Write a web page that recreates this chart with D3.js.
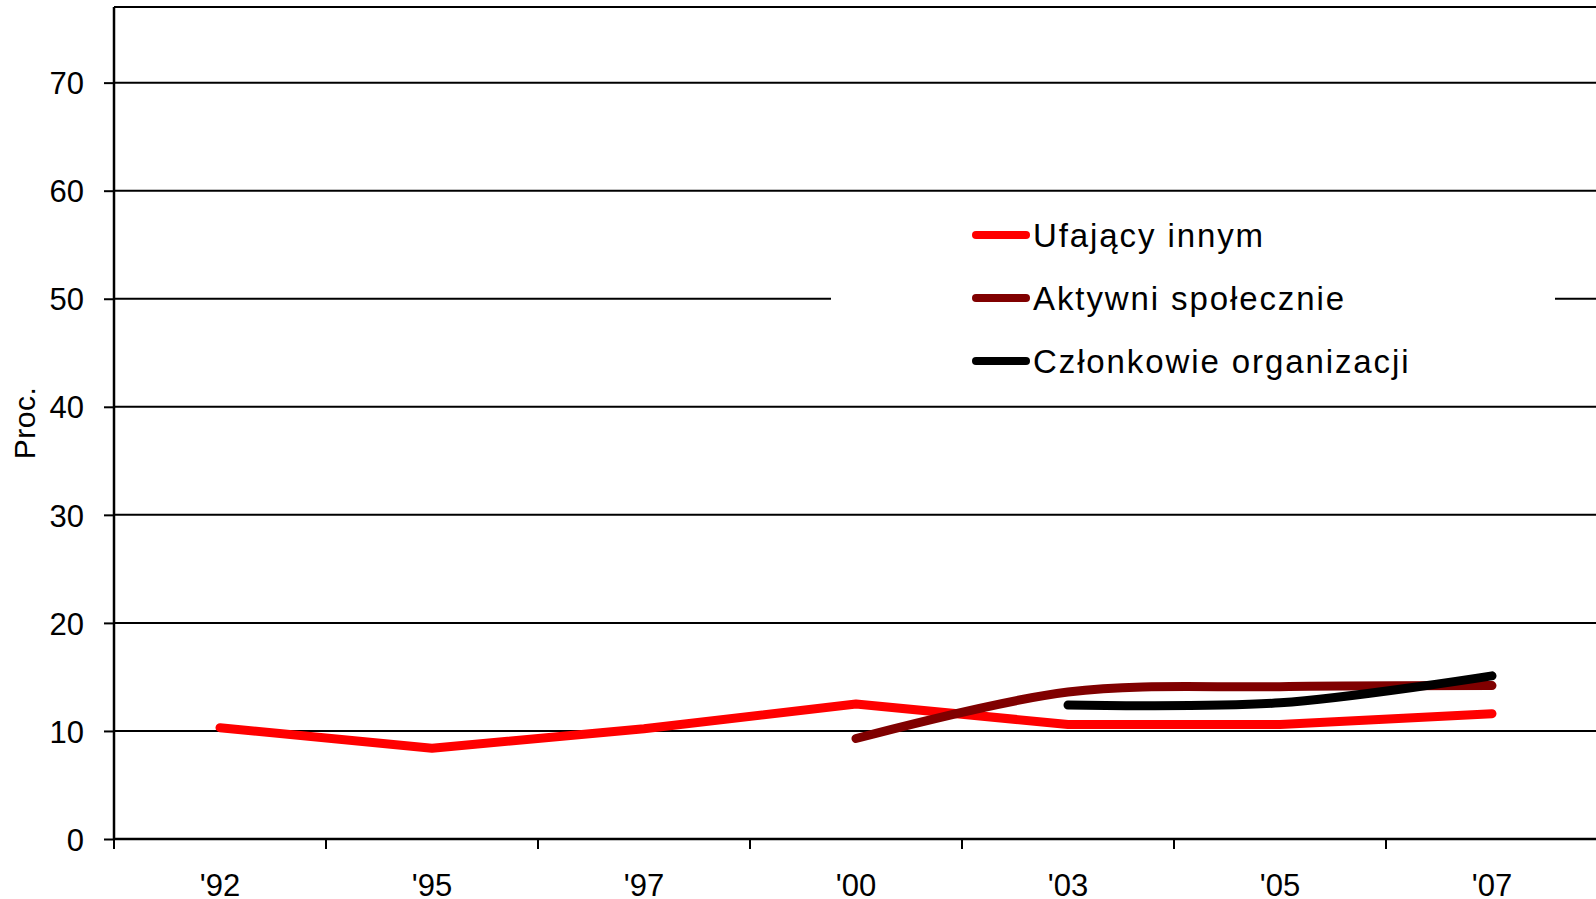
<!DOCTYPE html>
<html>
<head>
<meta charset="utf-8">
<script src="https://cdn.jsdelivr.net/npm/d3@7"></script>
<style>
  html, body { margin: 0; padding: 0; background: #fff; overflow: hidden; }
  text { font-family: "Liberation Sans", Arial, sans-serif; fill: #000; }
</style>
</head>
<body>
<div id="chart"></div>
<script>
// dane
var years = ["'92", "'95", "'97", "'00", "'03", "'05", "'07"];
var ufajacy = [10.3, 8.4, 10.2, 12.5, 10.6, 10.6, 11.6];
var aktywni = [null, null, null, 9.3, 13.6, 14.1, 14.2];
var czlonkowie = [null, null, null, null, 12.4, 12.6, 15.1];
var yTicks = [0, 10, 20, 30, 40, 50, 60, 70];
var seriesNames = ["Ufający innym", "Aktywni społecznie", "Członkowie organizacji"];

var width = 1596, height = 899;
var plotLeft = 114, plotRight = 1598, plotTop = 7, plotBottom = 839;

var svg = d3.select("#chart")
    .append("svg")
    .attr("width", width)
    .attr("height", height);

var x = d3.scaleBand()
    .domain(years)
    .range([plotLeft, plotRight])
    .padding(0);

var y = d3.scaleLinear()
    .domain([0, 77])
    .range([plotBottom, plotTop]);

// linie siatki
svg.append("g")
    .selectAll("line")
    .data(yTicks.filter(function (d) { return d > 0; }))
    .enter()
    .append("line")
    .attr("x1", plotLeft)
    .attr("x2", plotRight)
    .attr("y1", function (d) { return y(d); })
    .attr("y2", function (d) { return y(d); })
    .attr("stroke", "#000")
    .attr("stroke-width", 2);

// górna ramka
svg.append("line")
    .attr("x1", plotLeft).attr("x2", plotRight)
    .attr("y1", plotTop).attr("y2", plotTop)
    .attr("stroke", "#000").attr("stroke-width", 2.2);

// oś Y
var yAxis = svg.append("g")
    .attr("transform", "translate(" + plotLeft + ",0)")
    .call(d3.axisLeft(y).tickValues(yTicks).tickSize(10).tickPadding(20));
yAxis.select(".domain").remove();
yAxis.selectAll(".tick line").attr("stroke", "#000").attr("stroke-width", 2);
yAxis.selectAll(".tick text")
    .attr("font-size", "31px")
    .attr("font-family", "Liberation Sans, Arial, sans-serif")
    .attr("dy", "0.36em");
svg.append("line")
    .attr("x1", plotLeft).attr("x2", plotLeft)
    .attr("y1", plotTop).attr("y2", plotBottom)
    .attr("stroke", "#000").attr("stroke-width", 2.5);

// oś X: kreski na granicach kategorii, etykiety pośrodku
var xAxis = svg.append("g")
    .attr("transform", "translate(0," + plotBottom + ")")
    .call(d3.axisBottom(x).tickSize(0).tickPadding(0));
xAxis.select(".domain").remove();
xAxis.selectAll(".tick text")
    .attr("font-size", "31px")
    .attr("font-family", "Liberation Sans, Arial, sans-serif")
    .attr("dy", null)
    .attr("y", 56.5);
svg.append("g")
    .selectAll("line")
    .data(years)
    .enter()
    .append("line")
    .attr("x1", function (d) { return x(d); })
    .attr("x2", function (d) { return x(d); })
    .attr("y1", plotBottom)
    .attr("y2", plotBottom + 10)
    .attr("stroke", "#000")
    .attr("stroke-width", 2);
svg.append("line")
    .attr("x1", plotLeft).attr("x2", plotRight)
    .attr("y1", plotBottom).attr("y2", plotBottom)
    .attr("stroke", "#000").attr("stroke-width", 2.5);

// tytuł osi Y
svg.append("text")
    .attr("transform", "translate(35,423) rotate(-90)")
    .attr("text-anchor", "middle")
    .attr("font-size", "30px")
    .attr("letter-spacing", "0.5px")
    .text("Proc.");

// serie
var colors = ["#ff0000", "#800000", "#000000"];
var curves = [d3.curveLinear, d3.curveCatmullRom, d3.curveCatmullRom];
var allSeries = [ufajacy, aktywni, czlonkowie];

allSeries.forEach(function (vals, i) {
    var pts = years.map(function (yr, j) { return [yr, vals[j]]; })
        .filter(function (p) { return p[1] != null; });
    var line = d3.line()
        .x(function (p) { return x(p[0]) + x.bandwidth() / 2; })
        .y(function (p) { return y(p[1]); })
        .curve(curves[i]);
    svg.append("path")
        .datum(pts)
        .attr("d", line)
        .attr("fill", "none")
        .attr("stroke", colors[i])
        .attr("stroke-width", 9)
        .attr("stroke-linecap", "round")
        .attr("stroke-linejoin", "round");
});

// legenda
var legend = svg.append("g");
legend.append("rect")
    .attr("x", 831).attr("y", 205)
    .attr("width", 724).attr("height", 185)
    .attr("fill", "#fff");
var items = legend.selectAll("g.item")
    .data(seriesNames)
    .enter()
    .append("g")
    .attr("class", "item")
    .attr("transform", function (d, i) { return "translate(0," + (235 + i * 63) + ")"; });
items.append("line")
    .attr("x1", 976).attr("x2", 1026)
    .attr("y1", 0).attr("y2", 0)
    .attr("stroke", function (d, i) { return colors[i]; })
    .attr("stroke-width", 8)
    .attr("stroke-linecap", "round");
items.append("text")
    .attr("x", 1033)
    .attr("dy", "0.35em")
    .attr("font-size", "33px")
    .attr("letter-spacing", "1.9px")
    .text(function (d) { return d; });
</script>
</body>
</html>
